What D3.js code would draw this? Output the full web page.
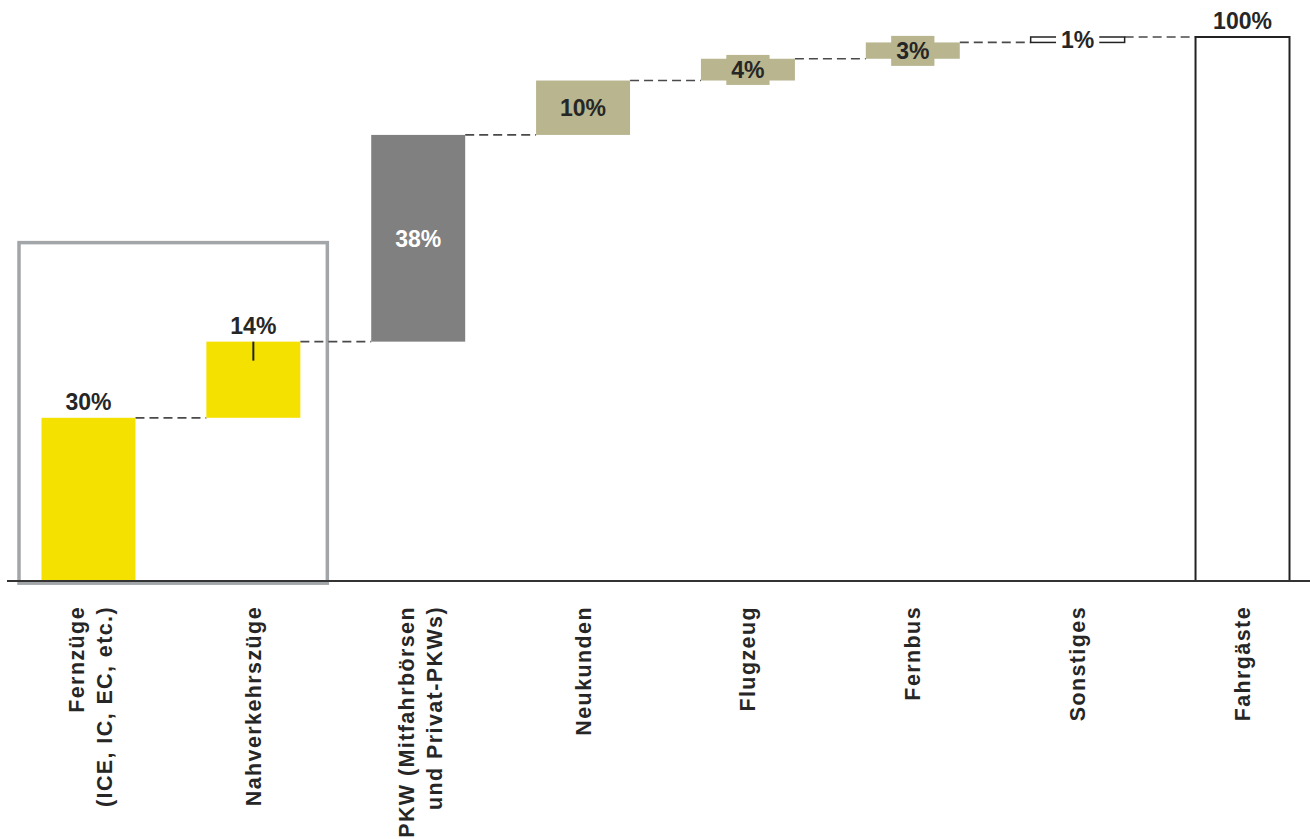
<!DOCTYPE html>
<html><head><meta charset="utf-8">
<script src="https://cdn.jsdelivr.net/npm/d3@7"></script>
<style>
html,body{margin:0;padding:0;background:#fff;}
svg{display:block;font-family:"Liberation Sans",Arial,Helvetica,sans-serif;}
</style></head>
<body>
<svg id="chart" width="1310" height="839"></svg>
<script>
const categories = ["Fernzüge\n(ICE, IC, EC, etc.)","Nahverkehrszüge","PKW (Mitfahrbörsen\nund Privat-PKWs)","Neukunden","Flugzeug","Fernbus","Sonstiges","Fahrgäste"];
const values = [30, 14, 38, 10, 4, 3, 1, 100];
const labels = ["30%","14%","38%","10%","4%","3%","1%","100%"];
const kinds = ["yellow","yellow","grey","tan","tan","tan","outline","total"];

const colors = {yellow:"#f5e100", grey:"#808080", tan:"#b8b58f", outline:"#ffffff", total:"#ffffff"};
const textColor = "#262626";

const svg = d3.select("#chart");
const x = d3.scaleBand().domain(categories).range([41.5, 1289.5]).paddingInner(0.43).paddingOuter(0);
const y = d3.scaleLinear().domain([0, 100]).range([581, 37]);
const bw = x.bandwidth();

// compute waterfall
let cum = 0;
const data = categories.map((c, i) => {
  let start, end;
  if (kinds[i] === "total") { start = 0; end = values[i]; }
  else { start = cum; end = cum + values[i]; cum = end; }
  return {cat: c, value: values[i], label: labels[i], kind: kinds[i], start, end};
});

// highlight box around first two categories
const c0 = categories[0], c1 = categories[1];
svg.append("rect")
  .attr("x", x(c0) - 22.5).attr("y", y(62.2))
  .attr("width", (x(c1) + bw + 27) - (x(c0) - 22.5))
  .attr("height", y(-0.4) - y(62.2))
  .attr("fill", "none").attr("stroke", "#a3a6a9").attr("stroke-width", 3.5);

// connectors
for (let i = 0; i < data.length - 1; i++) {
  const lvl = data[i].end;
  svg.append("line")
    .attr("x1", x(data[i].cat) + bw).attr("x2", x(data[i+1].cat))
    .attr("y1", y(lvl)).attr("y2", y(lvl))
    .attr("stroke", "#4a4a4a").attr("stroke-width", 1.7).attr("stroke-dasharray", "9,5");
}

// bars
svg.selectAll("rect.bar").data(data).enter().append("rect")
  .attr("class", "bar")
  .attr("x", d => x(d.cat))
  .attr("y", d => y(d.end))
  .attr("width", bw)
  .attr("height", d => y(d.start) - y(d.end))
  .attr("fill", d => colors[d.kind])
  .attr("stroke", d => (d.kind === "outline" || d.kind === "total") ? "#222" : "none")
  .attr("stroke-width", d => d.kind === "total" ? 2 : 1.5);

// axis baseline
svg.append("line").attr("x1", 7).attr("x2", 1310).attr("y1", y(0)).attr("y2", y(0))
  .attr("stroke", "#333").attr("stroke-width", 2.2);

// value labels
const fs = 23;
data.forEach(d => {
  const cx = x(d.cat) + bw / 2;
  if (d.kind === "yellow" || d.kind === "total") {
    svg.append("text").attr("x", cx).attr("y", y(d.end) - 8)
      .attr("text-anchor", "middle").attr("font-size", fs).attr("font-weight", "bold")
      .attr("fill", textColor).text(d.label);
    if (d.cat === categories[1]) {
      svg.append("line").attr("x1", cx).attr("x2", cx)
        .attr("y1", y(d.end)).attr("y2", y(d.end) + 19)
        .attr("stroke", "#222").attr("stroke-width", 2);
    }
  } else {
    const cy = (y(d.start) + y(d.end)) / 2;
    const t = svg.append("text").attr("x", cx).attr("y", cy).attr("dy", "0.36em")
      .attr("text-anchor", "middle").attr("font-size", fs).attr("font-weight", "bold")
      .attr("fill", d.kind === "grey" ? "#ffffff" : textColor).text(d.label);
    if (d.kind === "tan" || d.kind === "outline") {
      const bb = t.node().getBBox();
      const padX = 5, padY = 2;
      svg.insert("rect", () => t.node())
        .attr("x", bb.x - padX).attr("y", bb.y - padY)
        .attr("width", bb.width + 2 * padX).attr("height", bb.height + 2 * padY)
        .attr("fill", colors[d.kind]);
    }
  }
});

// category labels
data.forEach(d => {
  const cx = x(d.cat) + bw / 2;
  const lines = d.cat.split("\n");
  const g = svg.append("g").attr("transform", `translate(${cx},606) rotate(-90)`);
  const offs = lines.length === 1 ? [7.5] : [-4.5, 23.5];
  lines.forEach((ln, k) => {
    g.append("text").attr("x", 0).attr("y", offs[k])
      .attr("text-anchor", "end").attr("font-size", 21.5).attr("font-weight", "bold")
      .attr("letter-spacing", "1.4px")
      .attr("fill", textColor).text(ln);
  });
});
</script>
</body></html>
